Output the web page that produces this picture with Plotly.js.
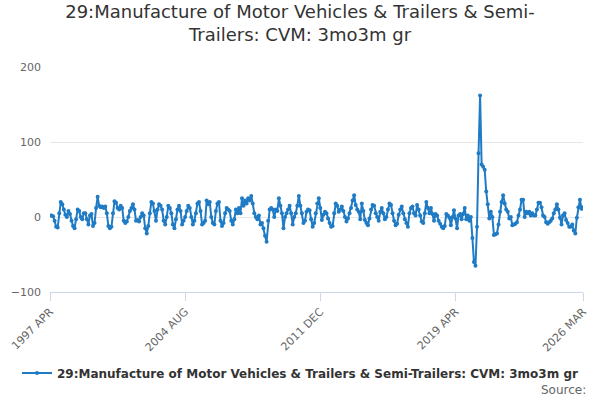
<!DOCTYPE html>
<html>
<head>
<meta charset="utf-8">
<script src="https://cdn.plot.ly/plotly-3.0.1.min.js"></script>
<style>
  body { margin: 0; background: #fff; }
  #chart { width: 600px; height: 400px; }
</style>
</head>
<body>
<div id="chart"></div>
<script>
// month labels, 1997 APR .. 2026 MAR
var monthNames = ["JAN","FEB","MAR","APR","MAY","JUN","JUL","AUG","SEP","OCT","NOV","DEC"]
var months = []
for (var y = 1997, m = 3; months.length < 348; m++) {
    if (m == 12) { m = 0; y++ }
    months.push(y + " " + monthNames[m])
}

var tickLabels = ["1997 APR", "2004 AUG", "2011 DEC", "2019 APR", "2026 MAR"]

// 3mo3m growth, %
var growth = [
    2, 2, 1, -5, -13, -14, 5, 20, 17, 10, 3, 0, 8, 4, -5, -12, -15, -3, 10, 8,
    0, -3, 5, 5, -3, -10, 2, 4, -12, -8, 12, 27, 15, 13, 14, 12, 14, 5, -12, -15,
    -13, 5, 21, 19, 12, 10, 15, 12, -5, -8, -6, 0, 8, 12, 17, 10, -5, -4, -6, 0,
    5, 2, -15, -22, -12, 5, 20, 18, 8, -5, 10, 17, 15, 10, -5, -10, 0, 15, 12, 5,
    -10, -15, -3, 10, 15, 8, -10, -5, 0, 8, 15, 12, 0, -10, -5, 5, 18, 20, 8, -10,
    -8, -5, 22, 17, 20, 0, -8, -10, 8, 18, 20, -5, -12, -8, 5, 12, 10, 8, -5, -10,
    -3, 10, 5, 12, 5, 25, 15, 22, 18, 25, 22, 28, 18, 5, 0, -3, 2, -10, -8, -15,
    -25, -33, -5, 10, 12, 10, 0, 10, 8, 25, 15, 5, -15, 0, 5, 10, 15, 5, -10, 0,
    5, 15, 28, 15, 5, -8, -5, 7, 10, 9, -3, -13, -8, 5, 18, 25, 12, -4, 3, 7,
    5, -2, -8, -13, -12, 5, 18, 15, 7, 10, 14, 8, 0, -6, -2, 5, 12, 22, 29, 16,
    10, 7, -3, 18, 8, -4, -8, -11, -2, 10, 16, 15, 5, 0, -5, 7, 12, 5, -3, 0,
    10, 18, 16, 5, -5, -11, -9, 3, 10, 14, 5, -3, -8, -13, 5, 12, 14, 5, 2, 16,
    10, 2, -6, -8, 5, 20, 12, 5, 12, 4, -5, 4, 2, -5, -9, -13, -15, -12, 4, 2,
    -1, -11, 0, 9, -2, -15, 2, 4, -3, 4, 12, -3, 2, -5, 0, -28, -60, -65, -13, 85,
    162, 70, 67, 63, 34, 17, -2, 7, 0, -24, -23, -22, -10, 7, 20, 29, 18, 10, 7, -2,
    0, -11, -10, -9, -7, 2, 10, 23, 23, 0, 7, 5, 7, 2, 5, 2, 2, 10, 19, 19,
    13, 2, 0, -7, -9, -7, -5, -2, 5, 10, 17, 10, -1, -10, 2, 5, -4, -8, -13, -13,
    -10, -18, -22, -1, 13, 23, 11, 13
]

var seriesName = "29:Manufacture of Motor Vehicles & Trailers & Semi-Trailers: CVM: 3mo3m gr"

var trace = {
    x: months,
    y: growth,
    name: seriesName,
    type: "scatter",
    mode: "lines+markers",
    line: { color: "#1f7bc4", width: 2 },
    marker: { color: "#1f7bc4", size: 4 },
    showlegend: true
}

var layout = {
    width: 600,
    height: 400,
    margin: { l: 50, r: 17, t: 67, b: 108 },
    paper_bgcolor: "#fff",
    plot_bgcolor: "#fff",
    font: { family: "DejaVu Sans, sans-serif", color: "#666666", size: 11 },
    title: {
        text: "29:Manufacture of Motor Vehicles & Trailers & Semi-<br>Trailers: CVM: 3mo3m gr",
        font: { size: 18, color: "#333333" },
        x: 0.5, xanchor: "center",
        y: 0.955, yanchor: "top"
    },
    xaxis: {
        type: "category",
        range: [0, months.length - 1],
        tickmode: "array",
        tickvals: tickLabels,
        ticktext: tickLabels,
        tickangle: -45,
        ticks: "outside",
        ticklen: 8,
        tickcolor: "#ccd6eb",
        showgrid: false,
        showline: true,
        linecolor: "#ccd6eb",
        linewidth: 1,
        zeroline: false,
        tickfont: { size: 11, color: "#666666" }
    },
    yaxis: {
        range: [-100, 200],
        tickvals: [-100, 0, 100, 200],
        showgrid: true,
        gridcolor: "#e6e6e6",
        zeroline: false,
        showline: false,
        ticks: "",
        ticklabelstandoff: 8,
        tickfont: { size: 11, color: "#666666" }
    },
    showlegend: true,
    legend: {
        orientation: "h",
        x: 0.5, xanchor: "center",
        xref: "container",
        y: 27 / 400, yanchor: "middle",
        yref: "container",
        font: { size: 12, color: "#333333", weight: "bold" },
        itemwidth: 30
    },
    annotations: [{
        text: "Source:",
        xref: "paper", yref: "paper",
        x: (588 - 50) / 533, y: (292 - 390) / 225,
        xanchor: "right", yanchor: "middle",
        showarrow: false,
        font: { size: 12, color: "#666666" }
    }]
}

Plotly.newPlot("chart", [trace], layout, { displayModeBar: false, staticPlot: true })
</script>
</body>
</html>
